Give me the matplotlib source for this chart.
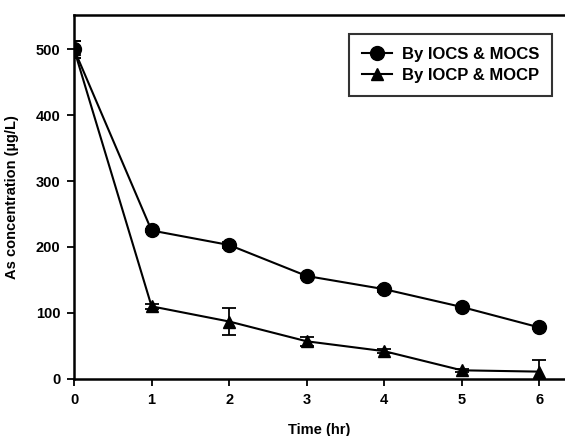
import matplotlib
matplotlib.use("Agg")
import matplotlib.pyplot as plt
from matplotlib.lines import Line2D

time = [0, 1, 2, 3, 4, 5, 6]
iocs_mocs = [500, 225, 203, 156, 136, 109, 78]
iocs_err = [13, 3, 4, 3, 4, 2, 2]
iocp_mocp = [500, 110, 87, 57, 42, 13, 11]
iocp_err = [13, 4, 21, 7, 3, 2, 18]
xticks = [0, 1, 2, 3, 4, 5, 6]
yticks = [0, 100, 200, 300, 400, 500]
labels = ['By IOCS & MOCS', 'By IOCP & MOCP']

plt.rcParams['font.family'] = ['Liberation Sans', 'DejaVu Sans']
plt.rcParams['font.weight'] = 'bold'

fig = plt.figure(figsize=(5.65, 4.36), dpi=100)
ax = fig.add_axes([0.131, 0.131, 0.869, 0.835])

ax.errorbar(time, iocs_mocs, yerr=iocs_err, color='black', marker='o', markersize=10,
            linewidth=1.5, capsize=5, elinewidth=1.3, capthick=1.3)
ax.errorbar(time, iocp_mocp, yerr=iocp_err, color='black', marker='^', markersize=9,
            linewidth=1.5, capsize=5, elinewidth=1.3, capthick=1.3)

ax.set_xlim(0, 6.33)
ax.set_ylim(0, 552)
ax.set_xticks(xticks)
ax.set_yticks(yticks)
ax.tick_params(direction='out', length=5, width=1.3, labelsize=10.5, pad=5)
for lab in ax.get_xticklabels() + ax.get_yticklabels():
    lab.set_fontweight('bold')
ax.spines['right'].set_visible(False)
for s in ['left', 'top', 'bottom']:
    ax.spines[s].set_linewidth(1.8)

ax.set_xlabel('Time (hr)', fontsize=10.5, fontweight='bold', labelpad=12)
ax.set_ylabel('As concentration (µg/L)', fontsize=10.5, fontweight='bold', labelpad=12)

handles = [Line2D([], [], color='black', marker='o', markersize=10, linewidth=1.5),
           Line2D([], [], color='black', marker='^', markersize=9, linewidth=1.5)]
leg = ax.legend(handles, labels, loc='upper right', bbox_to_anchor=(0.99, 0.97), fontsize=12,
                frameon=True, fancybox=False, edgecolor='black', handlelength=1.8,
                borderpad=0.75, labelspacing=0.4, handletextpad=0.6)
leg.get_frame().set_linewidth(1.5)
for t in leg.get_texts():
    t.set_fontweight('bold')

fig.savefig('out.png', dpi=100)
